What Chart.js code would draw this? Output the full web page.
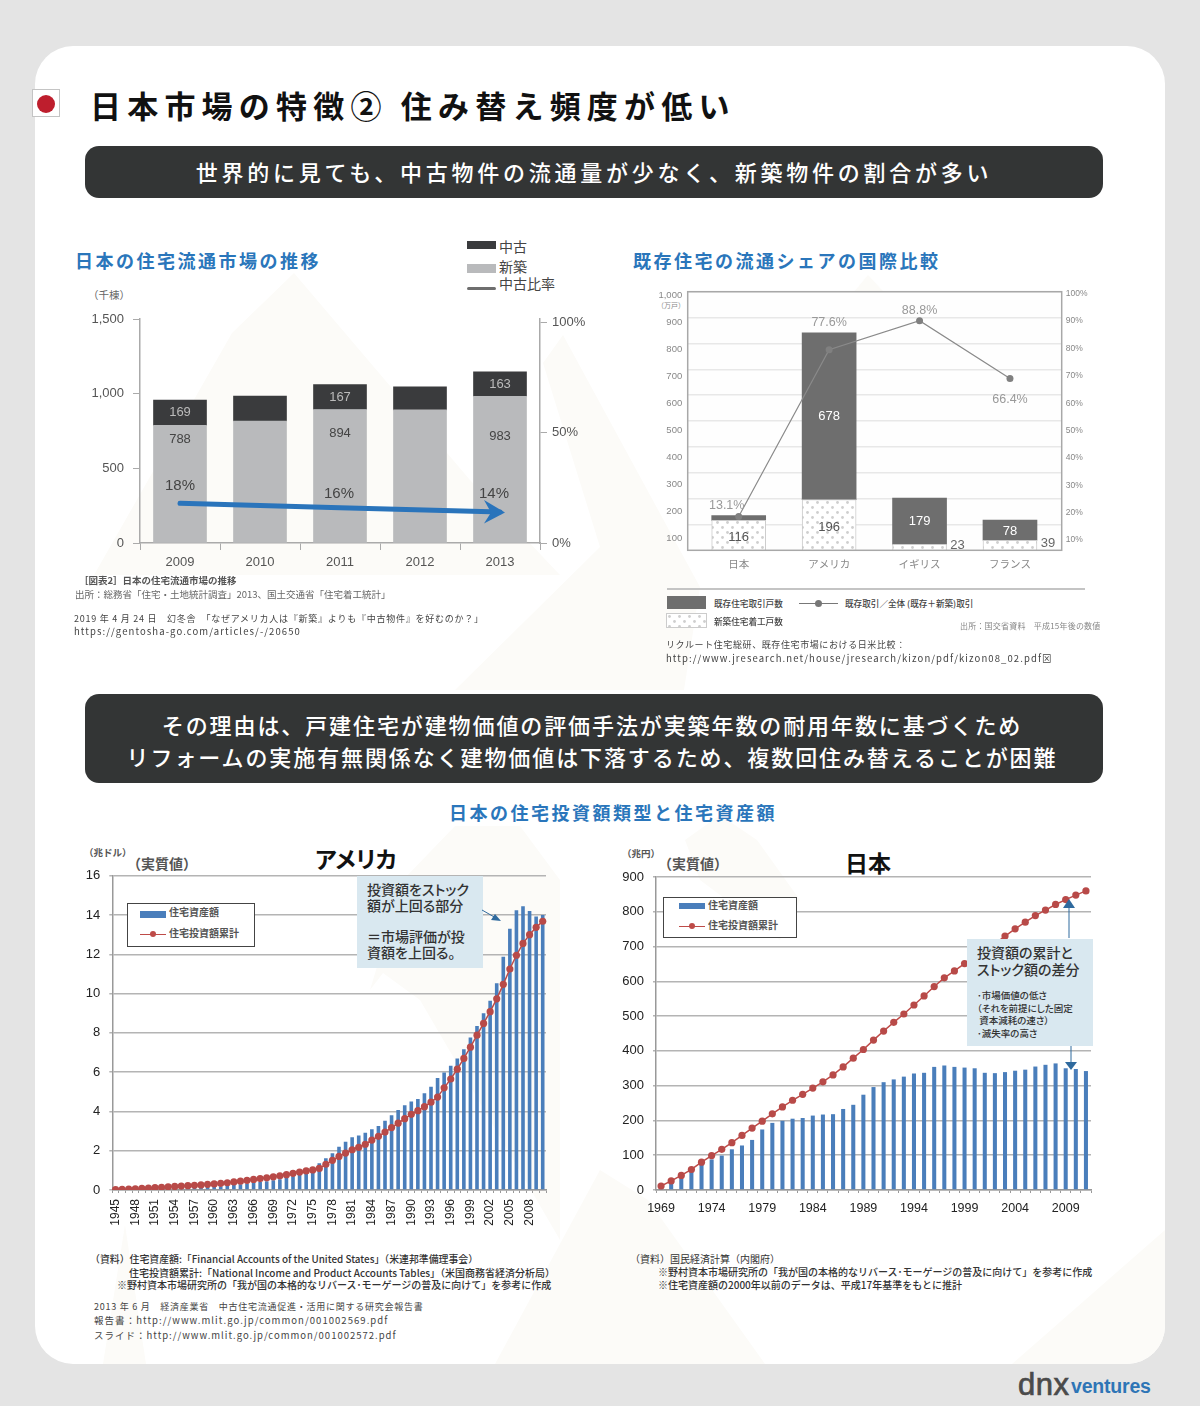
<!DOCTYPE html>
<html lang="ja">
<head>
<meta charset="utf-8">
<title>日本市場の特徴②</title>
<script src="https://cdn.jsdelivr.net/npm/chart.js@4/dist/chart.umd.min.js"></script>
<style>
  html, body { margin: 0; padding: 0; }
  body { position: relative; width: 1200px; height: 1406px; overflow: hidden; background: #e4e4e4;
         font-family: "Noto Sans CJK JP", "Noto Sans", sans-serif; color: #444; }
  #card { position: absolute; left: 35px; top: 46px; width: 1130px; height: 1318px; background: #fff;
          border-radius: 38px; overflow: hidden; }
  #card svg { position: absolute; left: -35px; top: -46px; }
  canvas { position: absolute; }
  .t { position: absolute; white-space: nowrap; transform: translateY(calc(-50% - 1px)); line-height: 1; }
  .banner { position: absolute; left: 85px; width: 1018px; background: #333535; border-radius: 14px; color: #fff; text-align: center; font-weight: 500; }
  .heading { color: #2a76bb; font-size: 18px; font-weight: 700; letter-spacing: 2.5px; }
  .t.note { font-size: 9px; letter-spacing: .75px; color: #444; transform: translateY(-50%); }
  .t.src { font-size: 10px; font-weight: 500; color: #333; transform: translateY(-50%); }
  .box { position: absolute; background: #fff; border: 1.5px solid #444; box-sizing: border-box; }
  .callout { position: absolute; background: #d9e8f0; box-sizing: border-box; z-index: 3; font-feature-settings: "palt"; }
  .sw { position: absolute; }
  .lg { font-size: 10px; font-weight: 700; color: #555; }
  .overlay { position: absolute; left: 0; top: 0; z-index: 4; pointer-events: none; }
</style>
</head>
<body>
<div id="card">
  <svg width="1200" height="1406" fill="#fcfbf8">
    <polygon points="94,575 232,333 294,273 470,480 560,575"/>
    <polygon points="455,690 600,547 543,363 563,335 700,587 684,690"/>
    <polygon points="835,315 868,275 905,315"/>
    <polygon points="403,880 455,826 520,826 560,880 560,1240 420,1000 383,973 370,990"/>
    <polygon points="685,840 720,815 757,840 800,900 780,940 700,880"/>
    <polygon points="103,1364 125,1225 146,1364"/>
    <polygon points="495,1364 600,1170 648,1200 765,1364"/>
    <polygon points="1012,1364 1165,1230 1165,1364"/>
  </svg>
</div>

<!-- header -->
<div style="position:absolute;left:32px;top:89px;width:28px;height:28px;background:#fff;border:1px solid #c4c4c4;box-sizing:border-box"></div>
<div style="position:absolute;left:37px;top:95px;width:18px;height:18px;border-radius:50%;background:#be1e2d"></div>
<div class="t" style="left:90px;top:105px;font-size:31px;font-weight:700;letter-spacing:6.2px;color:#111">日本市場の特徴② 住み替え頻度が低い</div>
<div class="banner" style="top:146px;height:52px;line-height:51px;font-size:22px;letter-spacing:3.75px">世界的に見ても、中古物件の流通量が少なく、新築物件の割合が多い</div>
<div class="banner" style="top:694px;height:89px;padding:14px 4px 0 0;box-sizing:border-box;font-size:22px;line-height:32px;letter-spacing:1.9px">その理由は、戸建住宅が建物価値の評価手法が実築年数の耐用年数に基づくため<br>リフォームの実施有無関係なく建物価値は下落するため、複数回住み替えることが困難</div>

<!-- chart 1 -->
<div class="t heading" style="left:75px;top:261px">日本の住宅流通市場の推移</div>
<div class="sw" style="left:467px;top:241px;width:29px;height:8px;background:#3a3b3d"></div>
<div class="sw" style="left:467px;top:264px;width:29px;height:9px;background:#b9babc"></div>
<div class="sw" style="left:467px;top:287px;width:29px;height:3px;border-radius:2px;background:#6e6e6e"></div>
<div class="t" style="left:499px;top:247px;font-size:14px">中古</div>
<div class="t" style="left:499px;top:267px;font-size:14px">新築</div>
<div class="t" style="left:499px;top:284px;font-size:14px">中古比率</div>
<div class="t" style="left:88px;top:296px;font-size:10.5px;color:#666">（千棟）</div>
<canvas id="flowChart" width="520" height="270" style="left:80px;top:309px"></canvas>
<div class="t" style="left:79px;top:582px;font-size:9.5px;font-weight:700;color:#555">［図表2］日本の住宅流通市場の推移</div>
<div class="t" style="left:75px;top:596px;font-size:9.5px;color:#666">出所：総務省「住宅・土地統計調査」2013、国土交通省「住宅着工統計」</div>
<div class="t note" style="left:74px;top:618px">2019 年 4 月 24 日　幻冬舎　「なぜアメリカ人は『新築』よりも『中古物件』を好むのか？」</div>
<div class="t note" style="left:74px;top:632px;font-size:9.5px;letter-spacing:1.1px">https://gentosha-go.com/articles/-/20650</div>

<!-- chart 2 -->
<div class="t heading" style="left:633px;top:261px">既存住宅の流通シェアの国際比較</div>
<div class="t" style="left:657px;top:306px;font-size:7px;color:#888">（万戸）</div>
<canvas id="shareChart" width="450" height="290" style="left:650px;top:285px"></canvas>
<div class="sw" style="left:667px;top:588px;width:418px;height:2px;background:#c4c4c4"></div>
<div class="sw" style="left:667px;top:596px;width:39px;height:13px;background:#6e6e6e"></div>
<div class="t" style="left:714px;top:604px;font-size:8.6px;font-weight:500">既存住宅取引戸数</div>
<div class="sw" style="left:799px;top:603px;width:39px;height:1px;background:#777"></div>
<div class="sw" style="left:815px;top:600px;width:7px;height:7px;border-radius:50%;background:#777"></div>
<div class="t" style="left:845px;top:604px;font-size:8.6px;font-weight:500">既存取引／全体 (既存＋新築)取引</div>
<canvas id="dotSwatch" width="39" height="13" style="left:667px;top:614px;outline:1px solid #ccc"></canvas>
<div class="t" style="left:714px;top:622px;font-size:8.6px;font-weight:500">新築住宅着工戸数</div>
<div class="t" style="left:960px;top:627px;font-size:8px;color:#888;letter-spacing:.2px">出所：国交省資料　平成15年後の数値</div>
<div class="t note" style="left:666px;top:644px;letter-spacing:.6px">リクルート住宅総研、既存住宅市場における日米比較：</div>
<div class="t note" style="left:666px;top:659px;font-size:9.5px;letter-spacing:1.1px">http://www.jresearch.net/house/jresearch/kizon/pdf/kizon08_02.pdf⊠</div>

<!-- bottom section -->
<div class="t heading" style="left:449px;top:813px">日本の住宅投資額類型と住宅資産額</div>

<div class="t" style="left:84px;top:854px;font-size:9.5px;font-weight:700;color:#555">（兆ドル）</div>
<div class="t" style="left:127px;top:864px;font-size:14px;font-weight:700;color:#555">（実質値）</div>
<div class="t" style="left:315px;top:859px;font-size:23px;font-weight:700;color:#111;font-feature-settings:'palt'">アメリカ</div>
<canvas id="usChart" width="485" height="370" style="left:70px;top:866px"></canvas>
<div class="box" style="left:127px;top:903px;width:128px;height:44px;z-index:2">
  <div class="sw" style="left:12px;top:7px;width:26px;height:7px;background:#4a7ebb"></div>
  <div class="t lg" style="left:41px;top:9px">住宅資産額</div>
  <div class="sw" style="left:12px;top:30px;width:26px;height:1px;background:#be4b48"></div>
  <div class="sw" style="left:22px;top:27px;width:6px;height:6px;border-radius:50%;background:#be4b48"></div>
  <div class="t lg" style="left:41px;top:30px">住宅投資額累計</div>
</div>
<div class="callout" style="left:357px;top:876px;width:126px;height:92px;font-size:14px;line-height:15.7px;padding:6px 0 0 10px;color:#333;font-weight:500">投資額をストック<br>額が上回る部分<br><br>＝市場評価が投<br>資額を上回る。</div>
<div class="t src" style="left:90px;top:1260px;font-size:9.9px">（資料）住宅資産額:「Financial Accounts of the United States」（米連邦準備理事会）</div>
<div class="t src" style="left:129px;top:1273px">住宅投資額累計:「National Income and Product Accounts Tables」（米国商務省経済分析局）</div>
<div class="t src" style="left:117px;top:1285px">※野村資本市場研究所の「我が国の本格的なリバース･モーゲージの普及に向けて」を参考に作成</div>
<div class="t note" style="left:94px;top:1306px">2013 年 6 月　経済産業省　中古住宅流通促進・活用に関する研究会報告書</div>
<div class="t note" style="left:94px;top:1321px;font-size:9.5px;letter-spacing:1.05px">報告書：http://www.mlit.go.jp/common/001002569.pdf</div>
<div class="t note" style="left:94px;top:1336px;font-size:9.5px;letter-spacing:1px">スライド：http://www.mlit.go.jp/common/001002572.pdf</div>

<div class="t" style="left:622px;top:855px;font-size:9.5px;font-weight:700;color:#555">（兆円）</div>
<div class="t" style="left:658px;top:864px;font-size:14px;font-weight:700;color:#555">（実質値）</div>
<div class="t" style="left:845px;top:863px;font-size:23px;font-weight:700;color:#111">日本</div>
<canvas id="jpChart" width="480" height="355" style="left:620px;top:868px"></canvas>
<div class="box" style="left:663px;top:897px;width:134px;height:41px;z-index:2">
  <div class="sw" style="left:15px;top:5px;width:26px;height:6px;background:#4a7ebb"></div>
  <div class="t lg" style="left:44px;top:8px">住宅資産額</div>
  <div class="sw" style="left:15px;top:28px;width:26px;height:1px;background:#be4b48"></div>
  <div class="sw" style="left:25px;top:25px;width:6px;height:6px;border-radius:50%;background:#be4b48"></div>
  <div class="t lg" style="left:44px;top:28px">住宅投資額累計</div>
</div>
<div class="callout" style="left:967px;top:939px;width:126px;height:107px;padding:5px 0 0 10px;color:#333">
  <div style="font-size:14px;line-height:17px;font-weight:500">投資額の累計と<br>ストック額の差分</div>
  <div style="font-size:9.5px;line-height:12.6px;margin-top:11px;font-weight:500">･市場価値の低さ<br>（それを前提にした固定<br>&nbsp;資本減耗の速さ）<br>･滅失率の高さ</div>
</div>
<svg class="overlay" width="1200" height="1406" fill="#2f6a9e" stroke="#2f6a9e">
  <line x1="482" y1="910" x2="496" y2="918" stroke-width="1"/>
  <polygon points="501,921 491,920 495,914" stroke="none"/>
  <line x1="1069" y1="938" x2="1069" y2="905" stroke-width="1"/>
  <polygon points="1069,899 1063,908 1075,908" stroke="none"/>
  <line x1="1071" y1="1046" x2="1071" y2="1064" stroke-width="1"/>
  <polygon points="1071,1070 1065,1062 1077,1062" stroke="none"/>
</svg>
<div class="t src" style="left:630px;top:1259px;font-weight:400">（資料）国民経済計算（内閣府）</div>
<div class="t src" style="left:658px;top:1272px">※野村資本市場研究所の「我が国の本格的なリバース･モーゲージの普及に向けて」を参考に作成</div>
<div class="t src" style="left:658px;top:1285px">※住宅資産額の2000年以前のデータは、平成17年基準をもとに推計</div>

<!-- logo -->
<div class="t" style="left:1018px;top:1385px;font-family:'Liberation Sans';font-size:31px;color:#4a4a4a;letter-spacing:.5px;-webkit-text-stroke:.7px #4a4a4a">dnx</div>
<div class="t" style="left:1071px;top:1388px;font-family:'Liberation Sans';font-size:19.5px;font-weight:700;color:#2e75b6;letter-spacing:-.2px">ventures</div>

<script>
// chart 1 : 日本の住宅流通市場の推移 (千棟, 中古比率 %)
const flowYears = ['2009', '2010', '2011', '2012', '2013'];
const flowNew = [788, 817, 894, 891, 983];
const flowUsed = [169, 167, 167, 154, 163];
const flowRatio = [18, null, 16, null, 14];
const flowTicks = [0, 500, 1000, 1500];
const flowRatioTicks = [0, 50, 100];

// chart 2 : 既存住宅の流通シェアの国際比較 (万戸, %)
const shareCountries = ['日本', 'アメリカ', 'イギリス', 'フランス'];
const shareNew = [116, 196, 23, 39];
const shareExisting = [18, 645, 179, 78];
const shareExistingPrinted = ['', '678', '179', '78'];
const shareRatio = [13.1, 77.6, 88.8, 66.4];
const shareTicks = [100, 200, 300, 400, 500, 600, 700, 800, 900, 1000];
const sharePctTicks = [10, 20, 30, 40, 50, 60, 70, 80, 90, 100];

// chart 3 : アメリカ (兆ドル)
const usYears = [];
for (let y = 1945; y <= 2010; y++) usYears.push(String(y));
const usStock = [0.01, 0.02, 0.03, 0.04, 0.05, 0.06, 0.07, 0.08, 0.09, 0.1, 0.11, 0.12, 0.13, 0.14, 0.15,
  0.17, 0.19, 0.21, 0.25, 0.29, 0.33, 0.37, 0.41, 0.45, 0.5, 0.55, 0.62, 0.7, 0.8, 0.9, 1.05,
  1.36, 1.61, 1.87, 2.2, 2.46, 2.68, 2.78, 2.92, 3.09, 3.26, 3.53, 3.8, 4.07, 4.31, 4.5, 4.63, 4.92, 5.26, 5.7,
  5.98, 6.33, 6.7, 7.16, 7.76, 8.35, 9.0, 9.63, 10.53, 11.87, 13.3, 14.24, 14.45, 14.2, 13.92, 14.0];
const usInvest = [0.02, 0.03, 0.05, 0.06, 0.08, 0.1, 0.12, 0.14, 0.16, 0.18, 0.2, 0.22, 0.24, 0.26, 0.29,
  0.31, 0.34, 0.37, 0.41, 0.45, 0.49, 0.54, 0.58, 0.62, 0.67, 0.72, 0.78, 0.85, 0.91, 0.97, 1.02,
  1.1, 1.31, 1.51, 1.71, 1.88, 2.05, 2.17, 2.33, 2.54, 2.73, 2.95, 3.18, 3.4, 3.63, 3.85, 4.04, 4.24, 4.47, 4.73,
  5.2, 5.65, 6.15, 6.7, 7.27, 7.88, 8.48, 9.08, 9.73, 10.47, 11.25, 11.95, 12.55, 13.0, 13.37, 13.68];
const usTicks = [0, 2, 4, 6, 8, 10, 12, 14, 16];

// chart 4 : 日本 (兆円)
const jpYears = [];
for (let y = 1969; y <= 2011; y++) jpYears.push(String(y));
const jpStock = [8, 20, 33, 52, 72, 88, 99, 117, 128, 144, 174, 193, 199, 205, 207, 214, 217, 218, 233, 245, 274, 296,
  310, 318, 326, 335, 337, 354, 358, 354, 352, 350, 337, 336, 339, 343, 346, 355, 360, 364, 350, 348, 342];
const jpInvest = [11.5, 26, 42, 59, 80, 99, 117, 136, 157, 178, 198, 219, 239, 258, 275, 293, 311, 331, 354, 379, 404, 431,
  457, 482, 506, 532, 558, 585, 610, 630, 651, 671, 690, 708, 730, 751, 770, 789, 805, 821, 835, 848, 860];
const jpTicks = [0, 100, 200, 300, 400, 500, 600, 700, 800, 900];

Chart.defaults.font.family = '"Liberation Sans", "Noto Sans CJK JP", sans-serif';
Chart.defaults.animation = false;
Chart.defaults.responsive = false;
Chart.defaults.plugins.legend.display = false;
Chart.defaults.plugins.tooltip.enabled = false;

// text next to a drawn element, offsets are relative to the element
function labelPlugin(items) {
  return {
    id: 'labels',
    afterDatasetsDraw(chart) {
      const ctx = chart.ctx;
      ctx.save();
      ctx.textAlign = 'center';
      ctx.textBaseline = 'middle';
      items.forEach(l => {
        const el = chart.getDatasetMeta(l.ds).data[l.i];
        ctx.fillStyle = l.color;
        ctx.font = l.font + ' "Liberation Sans", sans-serif';
        ctx.fillText(l.text, el.x + (l.dx || 0), el.y + (l.dy || 0));
      });
      ctx.restore();
    }
  };
}

const fixedTicks = list => scale => { scale.ticks = list.map(v => ({ value: v })); };
// pin the axis size and drop the label overhang so the plot area lands where it should
const fixedWidth = w => scale => { scale.width = w; scale.paddingTop = 0; scale.paddingBottom = 0; };
const fixedHeight = h => scale => { scale.height = h; scale.paddingLeft = 0; scale.paddingRight = 0; };
const comma = v => Number(v).toLocaleString('en-US');

// blue arrow head at the end of the ratio line
const arrowHead = {
  id: 'arrowHead',
  afterDatasetsDraw(chart) {
    const p = chart.getDatasetMeta(0).data[4];
    const ctx = chart.ctx;
    ctx.save();
    ctx.fillStyle = '#2a74bb';
    ctx.beginPath();
    ctx.moveTo(p.x + 5, p.y + 0.5);
    ctx.lineTo(p.x - 16, p.y - 12);
    ctx.lineTo(p.x - 9, p.y + 0.5);
    ctx.lineTo(p.x - 16, p.y + 11.5);
    ctx.closePath();
    ctx.fill();
    ctx.restore();
  }
};

new Chart(document.getElementById('flowChart'), {
  type: 'bar',
  data: {
    labels: flowYears,
    datasets: [
      { type: 'line', label: '中古比率', data: flowRatio, yAxisID: 'yRatio', order: 0, spanGaps: true,
        borderColor: '#2a74bb', borderWidth: 5, borderCapStyle: 'round', pointRadius: 0, tension: 0 },
      { label: '新築', data: flowNew, backgroundColor: '#b9babc', order: 1, barThickness: 53 },
      { label: '中古', data: flowUsed, backgroundColor: '#3a3b3d', order: 2, barThickness: 53 }
    ]
  },
  options: {
    layout: { padding: { top: 10, bottom: 0, left: 0, right: 0 } },
    scales: {
      x: { stacked: true, afterFit: fixedHeight(36),
        grid: { drawOnChartArea: false, color: '#aaa', tickLength: 7 },
        border: { color: '#aaa', width: 1.5 },
        ticks: { color: '#555', font: { size: 13 }, padding: 5, maxRotation: 0 } },
      y: { stacked: true, min: 0, max: 1500, afterFit: fixedWidth(60), afterBuildTicks: fixedTicks(flowTicks),
        grid: { drawOnChartArea: false, color: '#aaa', tickLength: 7 },
        border: { color: '#aaa', width: 1.5 },
        ticks: { color: '#555', font: { size: 13 }, padding: 9, callback: comma } },
      yRatio: { position: 'right', min: 0, max: 101.4, afterFit: fixedWidth(60), afterBuildTicks: fixedTicks(flowRatioTicks),
        grid: { drawOnChartArea: false, color: '#aaa', tickLength: 7 },
        border: { color: '#aaa', width: 1.5 },
        ticks: { color: '#555', font: { size: 13 }, padding: 5, callback: v => v + '%' } }
    }
  },
  plugins: [arrowHead, labelPlugin([
    { ds: 2, i: 0, text: String(flowUsed[0]), dy: 12, color: '#bbb', font: '13px' },
    { ds: 2, i: 2, text: String(flowUsed[2]), dy: 13, color: '#bbb', font: '13px' },
    { ds: 2, i: 4, text: String(flowUsed[4]), dy: 13, color: '#bbb', font: '13px' },
    { ds: 1, i: 0, text: String(flowNew[0]), dy: 14, color: '#444', font: '13px' },
    { ds: 1, i: 2, text: String(flowNew[2]), dy: 24, color: '#444', font: '13px' },
    { ds: 1, i: 4, text: String(flowNew[4]), dy: 40, color: '#444', font: '13px' },
    { ds: 0, i: 0, text: flowRatio[0] + '%', dy: -17, color: '#444', font: '15px' },
    { ds: 0, i: 2, text: flowRatio[2] + '%', dy: -14, dx: -1, color: '#444', font: '15px' },
    { ds: 0, i: 4, text: flowRatio[4] + '%', dy: -18, dx: -6, color: '#444', font: '15px' }
  ])]
});

// white ground with staggered grey dots for the 新築 bars
function dotPattern() {
  const c = document.createElement('canvas');
  c.width = 10;
  c.height = 10;
  const g = c.getContext('2d');
  g.fillStyle = '#fff';
  g.fillRect(0, 0, 10, 10);
  g.fillStyle = '#cfcfcf';
  [[2.5, 2.5], [7.5, 7.5]].forEach(d => {
    g.beginPath();
    g.arc(d[0], d[1], 1.4, 0, Math.PI * 2);
    g.fill();
  });
  return g.createPattern(c, 'repeat');
}
const dots = dotPattern();
const sw = document.getElementById('dotSwatch').getContext('2d');
sw.fillStyle = dots;
sw.fillRect(0, 0, 39, 13);

// plot frame of chart 2
const plotFrame = {
  id: 'plotFrame',
  beforeDraw(chart) {
    const a = chart.chartArea;
    chart.ctx.save();
    chart.ctx.fillStyle = '#fefefe';
    chart.ctx.fillRect(a.left, a.top, a.width, a.height);
    chart.ctx.restore();
  },
  afterDraw(chart) {
    const a = chart.chartArea;
    chart.ctx.save();
    chart.ctx.strokeStyle = '#a8a8a8';
    chart.ctx.lineWidth = 1.5;
    chart.ctx.strokeRect(a.left, a.top, a.width, a.height);
    chart.ctx.restore();
  }
};

new Chart(document.getElementById('shareChart'), {
  type: 'bar',
  data: {
    labels: [0, 1, 2, 3],
    datasets: [
      { type: 'line', label: '既存取引／全体', data: shareRatio, yAxisID: 'yPct', order: 0,
        borderColor: '#8a8a8a', borderWidth: 1.2, pointRadius: 3.5, pointBackgroundColor: '#808080', pointBorderWidth: 0, tension: 0 },
      { label: '新築住宅着工戸数', data: shareNew, backgroundColor: dots, borderColor: '#ccc', borderWidth: 1, order: 1, barThickness: 54 },
      { label: '既存住宅取引戸数', data: shareExisting, backgroundColor: '#6e6e6e', order: 2, barThickness: 54 }
    ]
  },
  options: {
    layout: { padding: { top: 6.7, bottom: 0, left: 0, right: 0 } },
    scales: {
      x: { type: 'linear', offset: false, stacked: true, min: -0.564, max: 3.572,
        afterBuildTicks: fixedTicks([0, 1, 2, 3]), afterFit: fixedHeight(24.7),
        grid: { display: false, drawTicks: false }, border: { display: false },
        ticks: { color: '#888', padding: 7, maxRotation: 0, autoSkip: false,
          callback: v => shareCountries[v], font: { size: 10.5, family: '"Noto Sans CJK JP"' } } },
      y: { stacked: true, min: 0, max: 1000, position: 'left', weight: 1, afterFit: fixedWidth(0),
        afterBuildTicks: fixedTicks(shareTicks),
        grid: { color: '#e8e8e8', lineWidth: 1.5, drawTicks: false },
        border: { display: false }, ticks: { display: false } },
      yPct: { display: false, min: 0, max: 100, position: 'right' },
      // the printed scales sit a little off the gridlines, same as the original
      yLabelsLeft: { position: 'left', weight: 2, min: 54.3, max: 1015, afterFit: fixedWidth(37.7),
        afterBuildTicks: fixedTicks(shareTicks),
        grid: { display: false, drawTicks: false }, border: { display: false },
        ticks: { color: '#888', font: { size: 9.5 }, padding: 5.5, callback: comma } },
      yLabelsRight: { position: 'right', min: 6.24, max: 100.73, afterFit: fixedWidth(38.3),
        afterBuildTicks: fixedTicks(sharePctTicks),
        grid: { display: false, drawTicks: false }, border: { display: false },
        ticks: { color: '#888', font: { size: 8.5 }, padding: 4, callback: v => v + '%' } }
    }
  },
  plugins: [plotFrame, labelPlugin([
    { ds: 1, i: 0, text: String(shareNew[0]), dy: 17, color: '#555', font: '13px' },
    { ds: 1, i: 1, text: String(shareNew[1]), dy: 28, color: '#555', font: '13px' },
    { ds: 1, i: 2, text: String(shareNew[2]), dx: 38, dy: 1, color: '#666', font: '13px' },
    { ds: 1, i: 3, text: String(shareNew[3]), dx: 38, dy: 3, color: '#666', font: '13px' },
    { ds: 2, i: 1, text: shareExistingPrinted[1], dy: 84, color: '#fff', font: '13px' },
    { ds: 2, i: 2, text: shareExistingPrinted[2], dy: 23, color: '#fff', font: '13px' },
    { ds: 2, i: 3, text: shareExistingPrinted[3], dy: 11, color: '#fff', font: '13px' },
    { ds: 0, i: 0, text: shareRatio[0] + '%', dx: -12, dy: -11, color: '#999', font: '12.5px' },
    { ds: 0, i: 1, text: shareRatio[1] + '%', dy: -27, color: '#999', font: '12.5px' },
    { ds: 0, i: 2, text: shareRatio[2] + '%', dy: -10, color: '#999', font: '12.5px' },
    { ds: 0, i: 3, text: shareRatio[3] + '%', dy: 21, color: '#999', font: '12.5px' }
  ])]
});

function investOptions(yMax, yTicks, yWidth, xHeight, top, every, xTickOpts) {
  return {
    layout: { padding: { top: top, right: 9, left: 0, bottom: 0 } },
    scales: {
      x: { afterFit: fixedHeight(xHeight),
        grid: { drawOnChartArea: false, color: '#999', tickLength: 3 },
        border: { color: '#999', width: 1.5 },
        ticks: Object.assign({ autoSkip: false, color: '#222',
          callback(v, i) { return i % every === 0 ? this.getLabelForValue(v) : ''; } }, xTickOpts) },
      y: { min: 0, max: yMax, afterFit: fixedWidth(yWidth), afterBuildTicks: fixedTicks(yTicks),
        grid: { color: '#b4b4b4', lineWidth: 1.5, tickLength: 3 },
        border: { color: '#999', width: 1.5 },
        ticks: { color: '#222', font: { size: 13 }, padding: 9 } }
    }
  };
}

function investDatasets(stock, invest, pct, r) {
  return [
    { type: 'line', label: '住宅投資額累計', data: invest, order: 0, borderColor: '#be4b48', borderWidth: 1.5,
      pointRadius: r, pointBackgroundColor: '#b84a48', pointBorderWidth: 0, tension: 0 },
    { label: '住宅資産額', data: stock, backgroundColor: '#4a7ebb', order: 1, barPercentage: pct, categoryPercentage: 1 }
  ];
}

new Chart(document.getElementById('usChart'), {
  type: 'bar',
  data: { labels: usYears, datasets: investDatasets(usStock, usInvest, 0.55, 3.6) },
  options: investOptions(16, usTicks, 42.3, 46, 9.7, 3,
    { font: { size: 12 }, minRotation: 90, maxRotation: 90, padding: 6 })
});

new Chart(document.getElementById('jpChart'), {
  type: 'bar',
  data: { labels: jpYears, datasets: investDatasets(jpStock, jpInvest, 0.4, 3.6) },
  options: investOptions(900, jpTicks, 36, 33, 9, 5,
    { font: { size: 12.5 }, maxRotation: 0, padding: 8 })
});
</script>
</body>
</html>
